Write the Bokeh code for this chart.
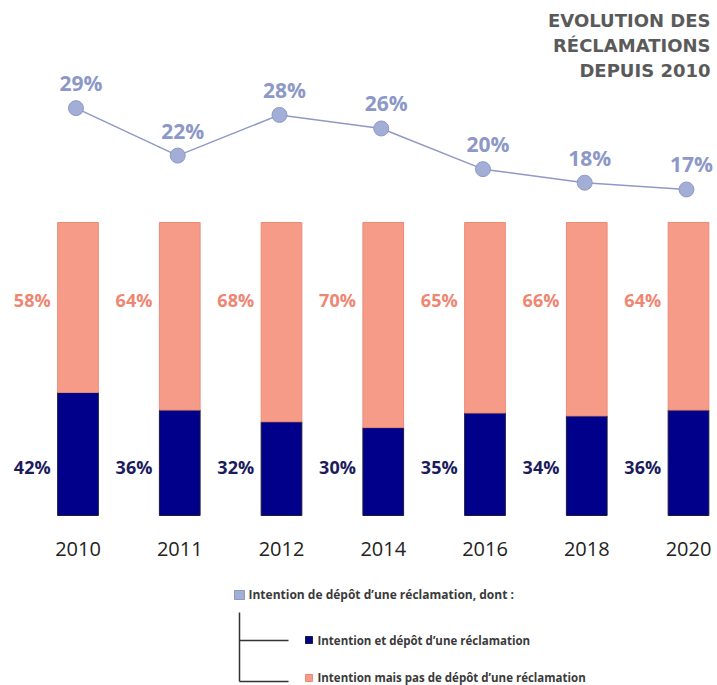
from bokeh.plotting import figure
from bokeh.models import Range1d, ColumnDataSource
from bokeh.embed import file_html
from bokeh.resources import INLINE
from bokeh.core.properties import value

# ---- data ----
years = ["2010", "2011", "2012", "2014", "2016", "2018", "2020"]
intention = [29, 22, 28, 26, 20, 18, 17]          # Intention de dépôt d'une réclamation
depot = [42, 36, 32, 30, 35, 34, 36]              # Intention et dépôt
pas_depot = [58, 64, 68, 70, 65, 66, 64]          # Intention mais pas de dépôt
title_lines = ["EVOLUTION DES", "RÉCLAMATIONS", "DEPUIS 2010"]
legend_labels = ["Intention de dépôt d\u2019une réclamation, dont :",
                 "Intention et dépôt d\u2019une réclamation",
                 "Intention mais pas de dépôt d\u2019une réclamation"]

# ---- style ----
FONT = value("Open Sans")
NAVY = "#00008a"
PINK = "#f79b89"
LIGHT = "#a3aed6"
LINE_C = "#8e99c7"
W, H = 717, 685

idx = list(range(len(years)))
tops = [a + b for a, b in zip(depot, pas_depot)]

p = figure(width=W, height=H, output_backend="svg", toolbar_location=None,
           x_range=Range1d(0, W), y_range=Range1d(H, 0),
           x_axis_type=None, y_axis_type=None, min_border=0)
p.outline_line_color = None
p.grid.visible = False
p.background_fill_color = "white"
p.border_fill_color = "white"
p.extra_x_ranges = {"cat": Range1d(-0.7617, 6.285)}
p.extra_y_ranges = {"pct": Range1d(-58.02, 175.77), "line": Range1d(-56.18, 44.88)}

src = ColumnDataSource(dict(
    x=idx, xl=[i - 0.02 for i in idx], years=years,
    depot=depot, tops=tops, intention=intention,
    depot_lbl=[f"{v}%" for v in depot],
    pas_lbl=[f"{v}%" for v in pas_depot],
    int_lbl=[f"{v}%" for v in intention],
    bar_left=[i - 0.2 for i in idx],
))

BW = 0.40
# stacked bars
p.vbar(x="x", bottom=0, top="depot", width=BW, source=src,
       fill_color=NAVY, line_color="#1b1b3a", line_width=1,
       x_range_name="cat", y_range_name="pct")
p.vbar(x="x", bottom="depot", top="tops", width=BW, source=src,
       fill_color=PINK, line_color="#ea8b78", line_width=1,
       x_range_name="cat", y_range_name="pct")

# bar labels (left of bars, fixed heights)
PINK_LBL_Y = 73.4
NAVY_LBL_Y = 16.7
p.text(x="bar_left", y=PINK_LBL_Y, text="pas_lbl", source=src,
       text_font=FONT, text_font_size="18px", text_font_style="bold",
       text_color="#ef8672", text_align="right", text_baseline="middle",
       x_offset=-7, x_range_name="cat", y_range_name="pct")
p.text(x="bar_left", y=NAVY_LBL_Y, text="depot_lbl", source=src,
       text_font=FONT, text_font_size="18px", text_font_style="bold",
       text_color="#1c1c5c", text_align="right", text_baseline="middle",
       x_offset=-7, x_range_name="cat", y_range_name="pct")

# year labels
p.text(x="x", y=-11.6, text="years", source=src,
       text_font=FONT, text_font_size="20px", text_color="#222222",
       text_align="center", text_baseline="middle",
       x_range_name="cat", y_range_name="pct")

# line series
p.line(x="xl", y="intention", source=src, line_color=LINE_C, line_width=1.5,
       x_range_name="cat", y_range_name="line")
p.scatter(x="xl", y="intention", source=src, size=15, fill_color=LIGHT,
          line_color=LINE_C, line_width=1,
          x_range_name="cat", y_range_name="line")
p.text(x="xl", y="intention", text="int_lbl", source=src,
       text_font=FONT, text_font_size="21px", text_font_style="bold",
       text_color="#8c98c8", text_align="center", text_baseline="middle",
       x_offset=5, y_offset=-25, x_range_name="cat", y_range_name="line")

# title (pixel coordinates)
p.text(x=[710] * 3, y=[20, 45, 70], text=title_lines,
       text_font=value("DejaVu Sans"), text_font_size="18px", text_font_style="bold",
       text_color="#5a5a5a", text_align="right", text_baseline="middle")

# legend (pixel coordinates)
p.quad(left=[234], right=[244], top=[590], bottom=[599],
       fill_color=LIGHT, line_color=LINE_C, line_width=1)
p.text(x=[248], y=[594], text=[legend_labels[0]], text_font=FONT,
       text_font_size="12px", text_font_style="bold", text_color="#3a3a3a",
       text_align="left", text_baseline="middle")
# bracket
p.line(x=[239, 239], y=[612, 681], line_color="#333333", line_width=1.5)
p.line(x=[239, 288], y=[640, 640], line_color="#333333", line_width=1.5)
p.line(x=[239, 288], y=[681, 681], line_color="#333333", line_width=1.5)
p.quad(left=[305], right=[312], top=[636], bottom=[643],
       fill_color=NAVY, line_color="#1b1b3a", line_width=1)
p.text(x=[317], y=[640], text=[legend_labels[1]], text_font=FONT,
       text_font_size="11.5px", text_font_style="bold", text_color="#3a3a3a",
       text_align="left", text_baseline="middle")
p.quad(left=[305], right=[312], top=[674], bottom=[681],
       fill_color=PINK, line_color="#ea8b78", line_width=1)
p.text(x=[317], y=[677], text=[legend_labels[2]], text_font=FONT,
       text_font_size="11.5px", text_font_style="bold", text_color="#3a3a3a",
       text_align="left", text_baseline="middle")

open("out.html", "w").write(file_html(p, INLINE))
